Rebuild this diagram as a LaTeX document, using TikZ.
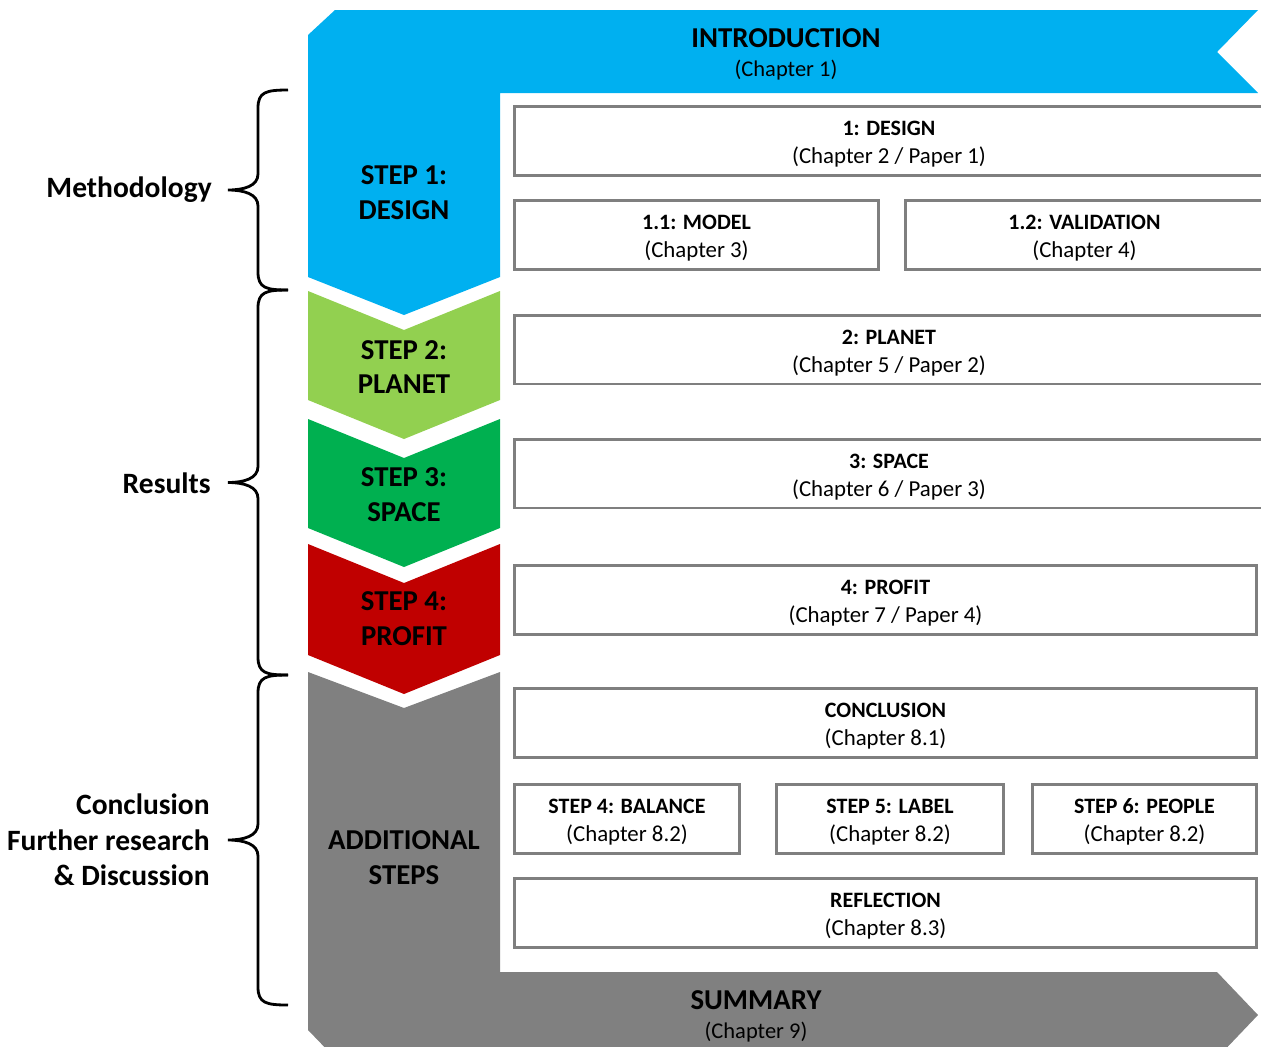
\documentclass[tikz,border=0pt]{standalone}
\usepackage{fontspec}
\setmainfont{Carlito}

\definecolor{introblue}{HTML}{00B0F0}
\definecolor{planetgreen}{HTML}{92D050}
\definecolor{spacegreen}{HTML}{00B050}
\definecolor{profitred}{HTML}{C00000}
\definecolor{extragray}{HTML}{808080}
\definecolor{boxgray}{HTML}{7F7F7F}

\newcommand{\curlybrace}[3]{% x, top y, bottom y
	\draw[line width=1.6pt] (#1,#2) .. controls (#1-22,#2) and (#1-30,#2+2) .. (#1-30,#2+18)
		-- (#1-30,{(#2+#3)/2-16}) .. controls (#1-30,{(#2+#3)/2-4}) and (#1-44,{(#2+#3)/2}) .. (#1-60,{(#2+#3)/2})
		.. controls (#1-44,{(#2+#3)/2}) and (#1-30,{(#2+#3)/2+4}) .. (#1-30,{(#2+#3)/2+16})
		-- (#1-30,#3-18) .. controls (#1-30,#3-2) and (#1-22,#3) .. (#1,#3);
}
% title and chapter line of a box, set a little low
\newcommand{\boxlines}[2]{\raisebox{-1.7pt}[\height][\depth]{%
	\begin{tabular}{@{}c@{}}\textbf{#1}\\\fontsize{13}{16}\selectfont #2\end{tabular}}}

\tikzset{
	chapbox/.style={draw=boxgray, line width=1.7pt, fill=white, inner sep=0pt,
		minimum height=1.38cm, font=\fontsize{12.5}{16}\selectfont},
	steptext/.style={align=center, font=\fontsize{16.4}{19.8}\selectfont\bfseries},
	sidetext/.style={anchor=east, align=right, inner sep=0pt, font=\fontsize{16.8}{20.2}\selectfont\bfseries}
}

\begin{document}
\begin{tikzpicture}[x=0.02cm,y=-0.02cm]
	\useasboundingbox (0,0) rectangle (1261,1046);
	\clip (0,0) rectangle (1261,1046);

	% introduction banner and step 1
	\fill[introblue] (308,35) -- (335,10) -- (1258,10) -- (1217,52) -- (1258,93) -- (500,93)
		-- (500,277) -- (404,315) -- (308,277) -- cycle;
	% steps 2 to 4
	\foreach \c/\t/\b in {planetgreen/291/400, spacegreen/419/528, profitred/544/655}{
		\fill[\c] (308,\t) -- (404,\t+39) -- (500,\t) -- (500,\b) -- (404,\b+39) -- (308,\b) -- cycle;
	}
	% additional steps and summary
	\fill[extragray] (308,672) -- (404,708) -- (500,672) -- (500,972) -- (1217,972) -- (1258,1015)
		-- (1217,1058) -- (335,1058) -- (308,1030) -- cycle;

	\node[steptext] (intro) at (786,38) {INTRODUCTION};
	\node[font=\fontsize{12.8}{16}\selectfont] (introchap) at (786,70) {(Chapter 1)};
	\node[steptext] (step1) at (404,193) {STEP 1:\\DESIGN};
	\node[steptext] (step2) at (404,367) {STEP 2:\\PLANET};
	\node[steptext] (step3) at (404,495) {STEP 3:\\SPACE};
	\node[steptext] (step4) at (404,619) {STEP 4:\\PROFIT};
	\node[steptext] (additional) at (404,858) {ADDITIONAL\\STEPS};
	\node[steptext] (summary) at (756,1000) {SUMMARY};
	\node[font=\fontsize{12.8}{16}\selectfont] (summarychap) at (756,1032) {(Chapter 9)};

	% chapter boxes
	\node[chapbox, minimum width=15cm] (design) at (889,141) {\boxlines{1: DESIGN}{(Chapter 2 / Paper 1)}};
	\node[chapbox, minimum width=7.3cm] (model) at (696.5,235) {\boxlines{1.1: MODEL}{(Chapter 3)}};
	\node[chapbox, minimum width=7.18cm] (validation) at (1084.5,235) {\boxlines{1.2: VALIDATION}{(Chapter 4)}};
	\node[chapbox, minimum width=15cm] (planet) at (889,349.5) {\boxlines{2: PLANET}{(Chapter 5 / Paper 2)}};
	\node[chapbox, minimum width=15cm] (space) at (889,473.5) {\boxlines{3: SPACE}{(Chapter 6 / Paper 3)}};
	\node[chapbox, minimum width=14.86cm] (profit) at (885.5,599.5) {\boxlines{4: PROFIT}{(Chapter 7 / Paper 4)}};
	\node[chapbox, minimum width=14.86cm] (conclusion) at (885.5,722.5) {\boxlines{CONCLUSION}{(Chapter 8.1)}};
	\node[chapbox, minimum width=4.52cm] (balance) at (627,818.5) {\boxlines{STEP 4: BALANCE}{(Chapter 8.2)}};
	\node[chapbox, minimum width=4.56cm] (label) at (890,818.5) {\boxlines{STEP 5: LABEL}{(Chapter 8.2)}};
	\node[chapbox, minimum width=4.5cm] (people) at (1144.5,818.5) {\boxlines{STEP 6: PEOPLE}{(Chapter 8.2)}};
	\node[chapbox, minimum width=14.86cm] (reflection) at (885.5,913) {\boxlines{REFLECTION}{(Chapter 8.3)}};

	% braces and their labels
	\curlybrace{288}{90}{290}
	\curlybrace{288}{290}{675}
	\curlybrace{288}{675}{1005}
	\node[sidetext] (methodology) at (212,190) {Methodology};
	\node[sidetext] (results) at (211,483) {Results};
	\node[sidetext] (furtherresearch) at (210,840) {Conclusion\\Further research\\\& Discussion};
\end{tikzpicture}
\end{document}
